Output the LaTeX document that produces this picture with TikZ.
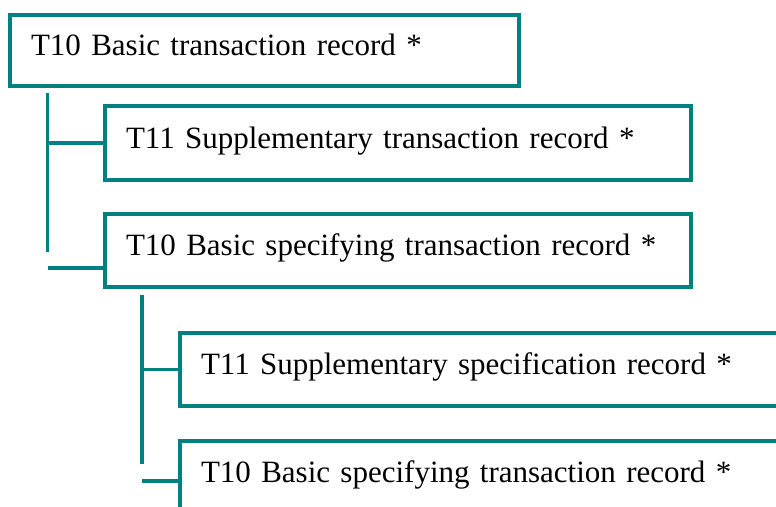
\documentclass[tikz,border=0pt]{standalone}
\usepackage{fontspec}
\setmainfont{Liberation Serif}
\usepackage{tikz}
\usetikzlibrary{positioning}
\definecolor{recteal}{RGB}{0,128,128}
\tikzstyle{rec} = [rectangle, draw=recteal, line width=3.5pt, outer sep=0pt, anchor=north west, inner xsep=21pt, inner ysep=0pt, align=left, text height=20pt, text depth=10pt, font=\fontsize{31}{37}\selectfont]
\tikzstyle{link} = [draw=recteal, line width=3.5pt]

\begin{document}
\begin{tikzpicture}[x=1pt,y=-1pt]
                    \clip (0,0) rectangle (776,506);
                    \useasboundingbox (0,0) rectangle (776,506);
                    \node (T10a) [rec, minimum width=509, minimum height=71, text width=467] at (10,15) {T10 Basic transaction record *};
                    \node (T11a) [rec, minimum width=586, minimum height=74, text width=544] at (105,106) {T11 Supplementary transaction record *};
                    \node (T10b) [rec, minimum width=586, minimum height=73, text width=544] at (105,214) {T10 Basic specifying transaction record *};
                    \node (T11b) [rec, minimum width=700, minimum height=73, text width=658] at (180,333) {T11 Supplementary specification record *};
                    \node (T10c) [rec, minimum width=700, minimum height=73, text width=658] at (180,441) {T10 Basic specifying transaction record *};
                    \coordinate (v1top) at (47.5,93);
                    \coordinate (v1bot) at (47.5,252);
                    \coordinate (h1) at (47.5,268);
                    \coordinate (v2top) at (142,295);
                    \coordinate (v2bot) at (142,464);
                    \coordinate (h2) at (142,481);
                    \draw [link] (v1top) -- (v1bot);
                    \draw [link] (T11a.west -| v1top) -- (T11a.west);
                    \draw [link] (h1) -- (h1 -| T10b.west);
                    \draw [link] (v2top) -- (v2bot);
                    \draw [link] (T11b.west -| v2top) -- (T11b.west);
                    \draw [link] (h2) -- (h2 -| T10c.west);
                \end{tikzpicture}
\end{document}
